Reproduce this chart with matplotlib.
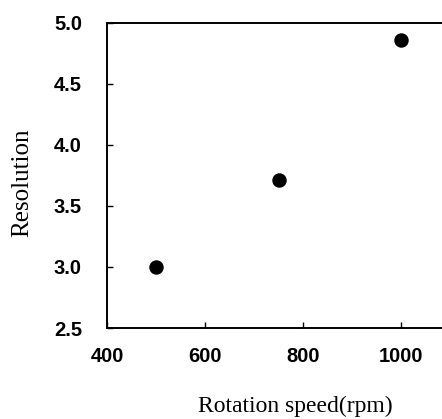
import matplotlib
matplotlib.use("Agg")
import matplotlib.pyplot as plt
from matplotlib.ticker import FixedLocator, FormatStrFormatter

# Data
rotation_speed = [500, 750, 1000]
resolution = [3.00, 3.71, 4.86]

x_ticks = [400, 600, 800, 1000]
y_ticks = [2.5, 3.0, 3.5, 4.0, 4.5, 5.0]

W, H = 442, 419
fig = plt.figure(figsize=(W / 100, H / 100), dpi=100)
fig.patch.set_facecolor("white")

left, right, top, bottom = 107, 442, 23, 328
ax = fig.add_axes([left / W, (H - bottom) / H, (right - left) / W, (bottom - top) / H])

ax.plot(rotation_speed, resolution, linestyle="none", marker="o",
        markersize=9.4, color="black")

ax.set_xlim(400, 1083)
ax.set_ylim(2.5, 5.0)
ax.xaxis.set_major_locator(FixedLocator(x_ticks))
ax.yaxis.set_major_locator(FixedLocator(y_ticks))
ax.yaxis.set_major_formatter(FormatStrFormatter("%.1f"))

for s in ["left", "bottom", "top"]:
    ax.spines[s].set_linewidth(1.4)
    ax.spines[s].set_color("black")
ax.spines["right"].set_visible(False)

ax.tick_params(axis="x", direction="in", length=4, width=1, pad=14)
ax.tick_params(axis="y", direction="in", length=4, width=1, pad=18)
for lab in ax.get_xticklabels() + ax.get_yticklabels():
    lab.set_fontfamily(["Liberation Sans", "DejaVu Sans"])
    lab.set_fontweight("bold")
    lab.set_fontsize(14.5)

ax.set_xlabel("Rotation speed(rpm)", family=["Liberation Serif", "DejaVu Serif"], size=17)
ax.set_ylabel("Resolution", family=["Liberation Serif", "DejaVu Serif"], size=18)
ax.xaxis.label.set_va("center")
ax.yaxis.label.set_va("center")
ax.xaxis.set_label_coords(0.561, -0.256)
ax.yaxis.set_label_coords(-0.254, 0.477)

fig.savefig("out.png", dpi=100, facecolor="white")
